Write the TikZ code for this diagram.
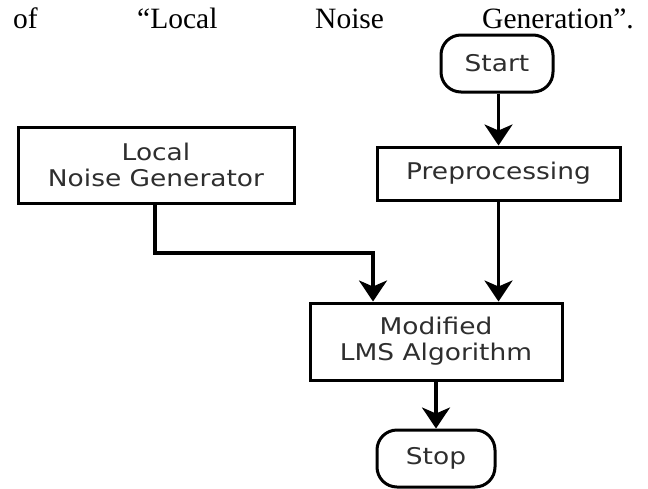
\documentclass[tikz,border=0pt]{standalone}
\usepackage{fontspec}
\setmainfont{Liberation Serif}
\newfontfamily\diagfont[FakeStretch=1.15]{DejaVu Sans}
\usetikzlibrary{arrows.meta}
\begin{document}
\begin{tikzpicture}[x=1pt,y=-1pt,
  box/.style={draw=black,line width=3pt,fill=white,align=center,inner sep=0pt,
    font=\diagfont\fontsize{23}{26}\selectfont,text=black!82},
  term/.style={box,rounded corners=20pt},
  conn/.style={line width=3.2pt,-{Stealth[length=21pt,width=28pt,inset=6pt]}},
  hdr/.style={anchor=base west,inner sep=0pt,font=\fontsize{29.5}{34}\selectfont}]
\useasboundingbox (0,0) rectangle (648,488);
\node[hdr] (w1) at (13,28) {of};
\node[hdr] (w2) at (137,28) {“Local};
\node[hdr] (w3) at (315,28) {Noise};
\node[hdr] (w4) at (482,28) {Generation”.};

\node[term,minimum width=112pt,minimum height=57pt] (start) at (497,63.5) {Start};
\node[box,minimum width=243pt,minimum height=53pt] (prep) at (498.5,173.5) {Preprocessing};
\node[box,minimum width=276pt,minimum height=76pt] (local) at (156,165) {Local\\Noise Generator};
\node[box,minimum width=252pt,minimum height=77pt] (mod) at (436,341.5) {Modified\\LMS Algorithm};
\node[term,minimum width=118pt,minimum height=57pt] (stop) at (436,458.5) {Stop};

\coordinate (bend) at (155,253);
\draw[conn] (start.south -| 498.5,0) -- (prep.north);
\draw[conn] (prep.south) -- (prep.south |- mod.north);
\draw[conn] (local.south -| bend) -- (bend) -| ([xshift=-63pt]mod.north);
\draw[conn] (mod.south) -- (stop.north);
\end{tikzpicture}
\end{document}
